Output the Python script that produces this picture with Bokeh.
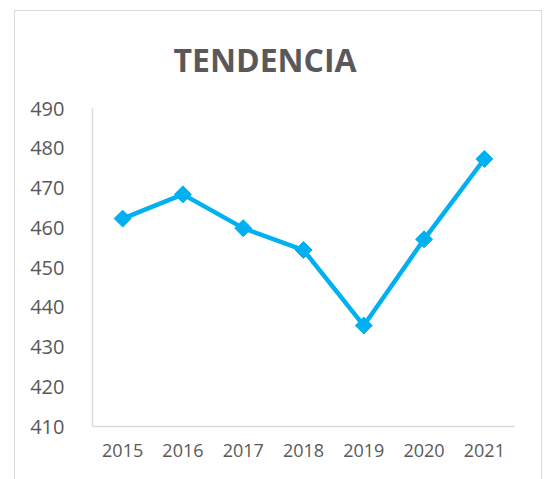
import math
from bokeh.plotting import figure
from bokeh.models import Range1d, ColumnDataSource
from bokeh.embed import file_html
from bokeh.resources import INLINE

years = ["2015", "2016", "2017", "2018", "2019", "2020", "2021"]
values = [462.3, 468.4, 459.9, 454.4, 435.4, 457.1, 477.3]
title_text = "TENDENCIA"

src = ColumnDataSource(dict(x=years, y=values))

p = figure(width=528, height=480, x_range=years, y_range=Range1d(410, 490),
           output_backend="svg", toolbar_location=None,
           min_border_left=77, min_border_right=29, min_border_top=97, min_border_bottom=65,
           margin=(10, 0, 0, 14),
           styles={"border": "1px solid #d9d9d9"})
p.outline_line_color = None
p.xgrid.grid_line_color = None
p.ygrid.grid_line_color = None
p.background_fill_color = "white"
p.border_fill_color = "white"

p.title.text = title_text
p.title.align = "left"
p.title.offset = 81
p.title.vertical_align = "top"
p.title.text_font = "Open Sans"
p.title.text_font_style = "bold"
p.title.text_font_size = "32px"
p.title.text_color = "#595959"
p.title.standoff = 51

for ax in (p.xaxis[0], p.yaxis[0]):
    ax.axis_line_color = "#d9d9d9"
    ax.axis_line_width = 1.3
    ax.major_tick_line_color = None
    ax.minor_tick_line_color = None
    ax.major_label_text_color = "#595959"
    ax.major_label_text_font = "Open Sans"

p.yaxis[0].ticker = [410, 420, 430, 440, 450, 460, 470, 480, 490]
p.yaxis[0].major_label_text_font_size = "20px"
p.yaxis[0].major_label_standoff = 22
p.xaxis[0].major_label_text_font_size = "18px"
p.xaxis[0].major_label_standoff = 11
p.x_range.range_padding = 0

p.line("x", "y", source=src, line_color="#00B0F0", line_width=4.5)
p.scatter("x", "y", source=src, marker="square", size=12, angle=math.pi / 4,
          fill_color="#00B0F0", line_color="#00B0F0")

open("out.html", "w").write(file_html(p, INLINE))
